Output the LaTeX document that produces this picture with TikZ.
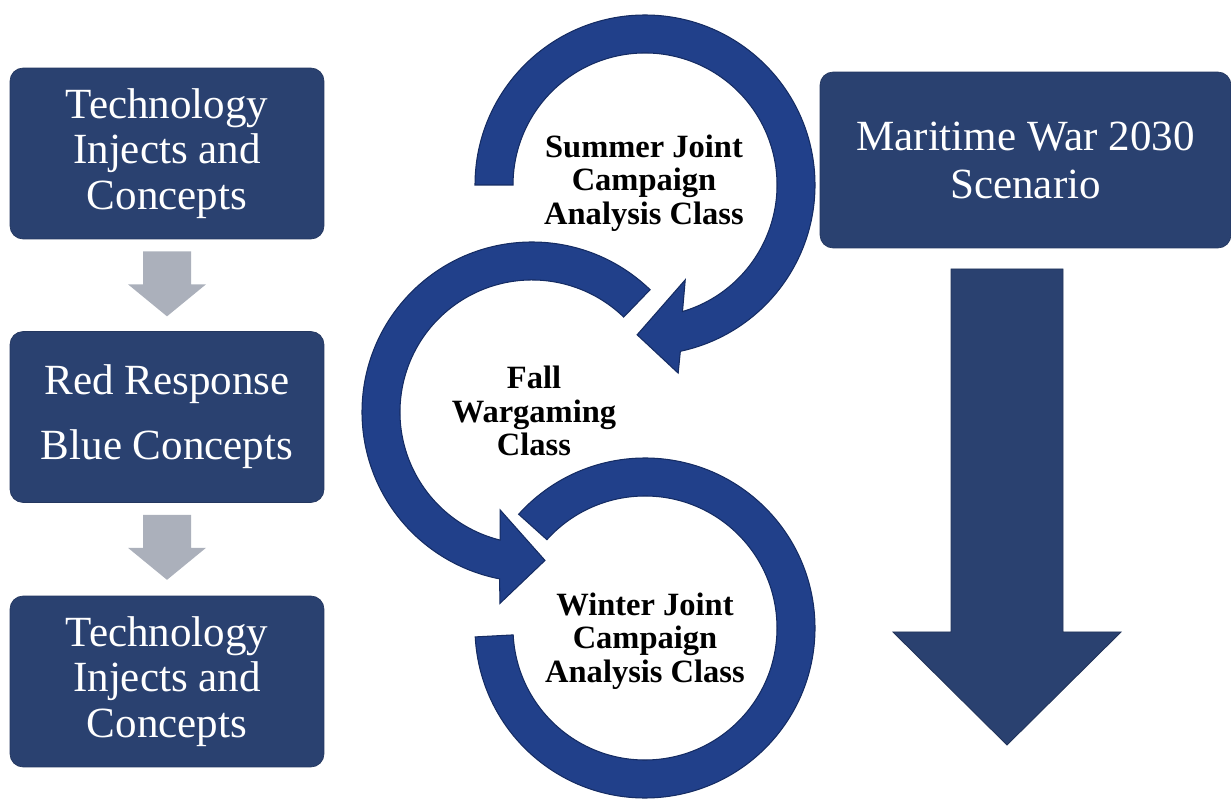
\documentclass[tikz,border=0pt]{standalone}
\usepackage{fontspec}
\setmainfont{Liberation Serif}
\usetikzlibrary{calc}

\definecolor{boxnavy}{HTML}{2A4170}
\definecolor{ringblue}{HTML}{21408A}
\definecolor{ringedge}{HTML}{152C63}
\definecolor{arrowgray}{HTML}{ABB0BB}

\tikzset{
  stagebox/.style={fill=boxnavy, draw=boxnavy!85!black, line width=0.4pt,
    rounded corners=0.26cm, minimum width=6.28cm, minimum height=3.42cm,
    inner sep=0pt, align=center, text=white, font=\fontsize{24.5}{26}\selectfont},
  ring/.style={fill=ringblue, draw=ringedge, line width=0.6pt},
  ringlabel/.style={align=center, inner sep=0pt,
    font=\bfseries\fontsize{18.5}{19}\selectfont},
  downarrow/.style={fill=arrowgray},
  bigarrow/.style={fill=boxnavy, draw=boxnavy!80!black, line width=0.5pt}
}

\begin{document}
\begin{tikzpicture}[x=0.02cm,y=0.02cm]
  \useasboundingbox (0,0) rectangle (1231,-810);

  % left column
  \node[stagebox] (tech1) at (167,-153.5) {Technology\\Injects and\\Concepts};
  \node[stagebox] (redblue) at (167,-417) {Red Response\\[11pt]Blue Concepts};
  \node[stagebox] (tech2) at (167,-681.5) {Technology\\Injects and\\Concepts};

  \fill[downarrow] ($(tech1.south)+(-24,-12)$) -- ++(48,0) -- ++(0,-33) -- ++(15,0)
    -- ++(-39,-32) -- ++(-39,32) -- ++(15,0) -- cycle;
  \fill[downarrow] ($(redblue.south)+(-24,-12)$) -- ++(48,0) -- ++(0,-33) -- ++(15,0)
    -- ++(-39,-32) -- ++(-39,32) -- ++(15,0) -- cycle;

  % right column
  \node[stagebox, minimum width=8.22cm, minimum height=3.52cm,
    font=\fontsize{24.5}{27.3}\selectfont] (scenario) at (1025.5,-160)
    {Maritime War 2030\\Scenario};

  \filldraw[bigarrow] (951,-269) -- (1063,-269) -- (1063,-632) -- (1121,-632)
    -- (1007,-745) -- (893,-632) -- (951,-632) -- cycle;

  % summer
  \begin{scope}[shift={(645,-185)}]
    \filldraw[ring] (180:170) arc[start angle=180, end angle=-78, radius=170]
      -- (-80:191) -- (-93:150) -- (-67:103) -- (-73.5:132)
      arc[start angle=-73.5, end angle=180, radius=132] -- cycle;
  \end{scope}

  % fall
  \begin{scope}[shift={(532,-412)}]
    \filldraw[ring] (46:170) arc[start angle=46, end angle=259, radius=170]
      -- (260.5:194) -- (275:149) -- (252:103) -- (256:132)
      arc[start angle=256, end angle=46, radius=132] -- cycle;
  \end{scope}

  % winter
  \begin{scope}[shift={(645,-628)}]
    \filldraw[ring] (138:170) arc[start angle=138, end angle=-177, radius=170]
      -- (-177:132) arc[start angle=-177, end angle=138, radius=132] -- cycle;
  \end{scope}

  \node[ringlabel] (summer) at (644,-183) {Summer Joint\\Campaign\\Analysis Class};
  \node[ringlabel] (fall) at (534,-411) {Fall\\Wargaming\\Class};
  \node[ringlabel] (winter) at (645,-641) {Winter Joint\\Campaign\\Analysis Class};
\end{tikzpicture}
\end{document}
